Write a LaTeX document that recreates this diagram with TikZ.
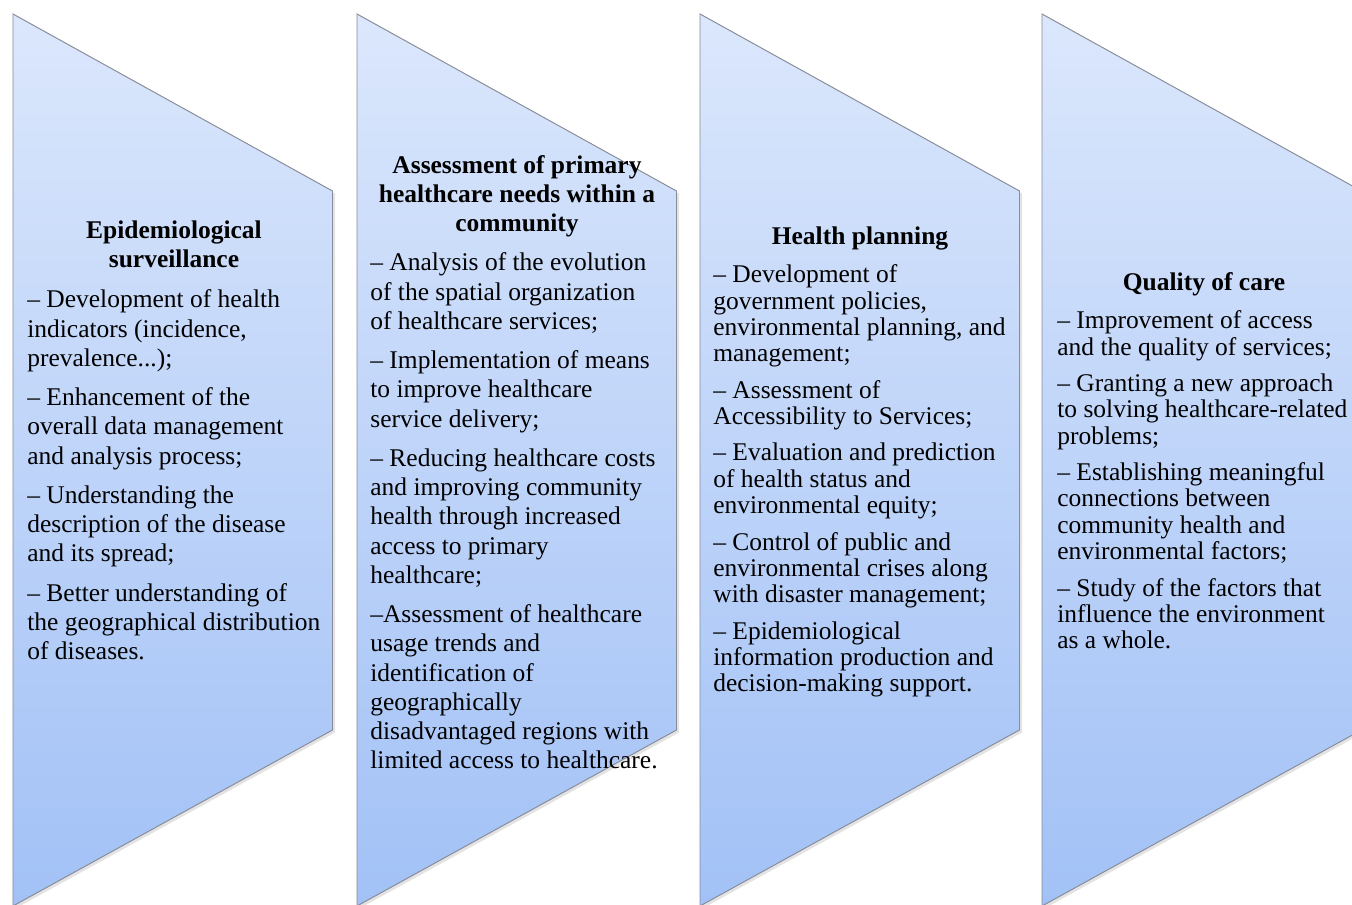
\documentclass[tikz,border=0pt]{standalone}
\usepackage{fontspec}
\setmainfont{Liberation Serif}
\usetikzlibrary{shadows}

\definecolor{paneltop}{RGB}{219,231,252}
\definecolor{panelbot}{RGB}{162,193,246}
\definecolor{paneledge}{RGB}{135,140,152}

\tikzset{
  panel/.style={draw=paneledge, line width=0.55pt, top color=paneltop, bottom color=panelbot,
    drop shadow={opacity=0.22, shadow xshift=0.05cm, shadow yshift=-0.05cm}},
  head/.style={anchor=north, align=center, inner sep=0pt, font=\fontsize{14.5}{16.6}\selectfont\bfseries},
  bodywide/.style={anchor=north west, align=left, inner sep=0pt, font=\fontsize{14.5}{16.65}\selectfont},
  bodytight/.style={anchor=north west, align=left, inner sep=0pt, font=\fontsize{14.5}{15}\selectfont}
}

\begin{document}
\begin{tikzpicture}

\useasboundingbox (0, 0) rectangle (27.04, 18.1);
\clip (0, 0) rectangle (27.04, 18.1);

\foreach \x in {0.26, 7.14, 14, 20.84}
  \path[panel] (\x, 17.82) -- ++(6.39, -3.54) -- ++(0, -10.78) -- (\x, -0.02) -- cycle;

\node[head] (epihead) at (3.48, 13.685) {Epidemiological\\surveillance};
\node[bodywide] (epibody) at (0.54, 12.31) {-- Development of health\\indicators (incidence,\\prevalence...);\\[0.2cm]
-- Enhancement of the\\overall data management\\and analysis process;\\[0.2cm]
-- Understanding the\\description of the disease\\and its spread;\\[0.2cm]
-- Better understanding of\\the geographical distribution\\of diseases.};

\node[head] (needshead) at (10.34, 15.0) {Assessment of primary\\healthcare needs within a\\community};
\node[bodywide] (needsbody) at (7.4, 13.05) {-- Analysis of the evolution\\of the spatial organization\\of healthcare services;\\[0.2cm]
-- Implementation of means\\to improve healthcare\\service delivery;\\[0.2cm]
-- Reducing healthcare costs\\and improving community\\health through increased\\access to primary\\healthcare;\\[0.2cm]
--Assessment of healthcare\\usage trends and\\identification of\\geographically\\disadvantaged regions with\\limited access to healthcare.};

\node[head, anchor=base] (planhead) at (17.2, 13.2) {Health planning};
\node[bodytight] (planbody) at (14.26, 12.81) {-- Development of\\government policies,\\environmental planning, and\\management;\\[0.2cm]
-- Assessment of\\Accessibility to Services;\\[0.2cm]
-- Evaluation and prediction\\of health status and\\environmental equity;\\[0.2cm]
-- Control of public and\\environmental crises along\\with disaster management;\\[0.2cm]
-- Epidemiological\\information production and\\decision-making support.};

\node[head, anchor=base] (carehead) at (24.08, 12.28) {Quality of care};
\node[bodytight] (carebody) at (21.14, 11.89) {-- Improvement of access\\and the quality of services;\\[0.2cm]
-- Granting a new approach\\to solving healthcare-related\\problems;\\[0.2cm]
-- Establishing meaningful\\connections between\\community health and\\environmental factors;\\[0.2cm]
-- Study of the factors that\\influence the environment\\as a whole.};

\end{tikzpicture}
\end{document}
